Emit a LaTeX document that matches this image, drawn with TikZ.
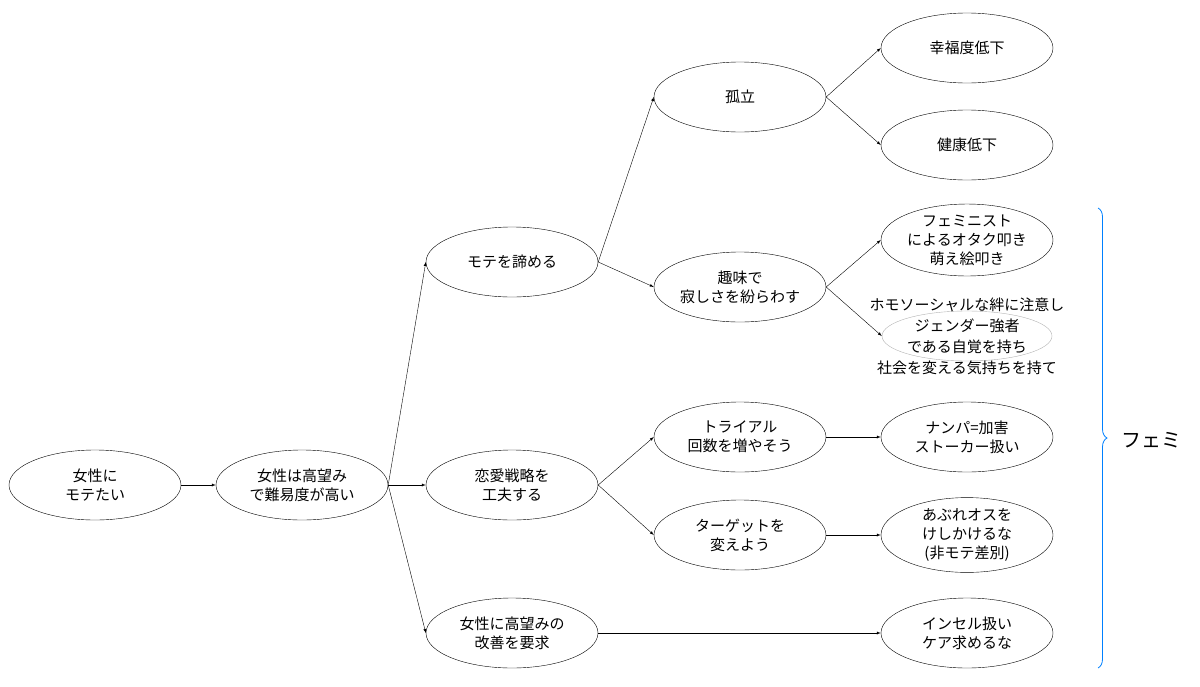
\documentclass[tikz,border=0pt]{standalone}
\usepackage{fontspec}
\setmainfont{Noto Sans CJK JP}
\usetikzlibrary{decorations.pathreplacing,shapes.geometric}
\begin{document}
\begin{tikzpicture}[x=1pt,y=-1pt,
  el/.style={draw,ellipse,minimum width=172pt,minimum height=70pt,align=center,font=\fontsize{15}{19}\selectfont,inner sep=0pt},
  ar/.style={-latex,thin}]
\useasboundingbox (0,0) rectangle (1200,686);
\node[el] (a) at (95,485) {女性に\\モテたい};
\node[el] (b) at (302,485) {女性は高望み\\で難易度が高い};
\node[el] (c1) at (512,262) {モテを諦める};
\node[el] (c2) at (512,485) {恋愛戦略を\\工夫する};
\node[el] (c3) at (512,633) {女性に高望みの\\改善を要求};
\node[el] (d1) at (740,97) {孤立};
\node[el] (d2) at (740,287) {趣味で\\寂しさを紛らわす};
\node[el] (d3) at (740,437) {トライアル\\回数を増やそう};
\node[el] (d4) at (740,535) {ターゲットを\\変えよう};
\node[el] (e1) at (967,48) {幸福度低下};
\node[el] (e2) at (967,145) {健康低下};
\node[el] (e3) at (967,240) {フェミニスト\\によるオタク叩き\\萌え絵叩き};
\node[draw=gray!60,ellipse,minimum width=170pt,minimum height=50pt] (e4) at (967,336) {};
\node[align=center,font=\fontsize{15}{21}\selectfont] (e4t) at (967,336) {ホモソーシャルな絆に注意し\\ジェンダー強者\\である自覚を持ち\\社会を変える気持ちを持て};
\node[el] (e5) at (967,437) {ナンパ=加害\\ストーカー扱い};
\node[el] (e6) at (967,535) {あぶれオスを\\けしかけるな\\(非モテ差別)};
\node[el] (e7) at (967,633) {インセル扱い\\ケア求めるな};
\draw[ar] (a) -- (b);
\foreach \t in {c1,c2,c3} \draw[ar] (b.east) -- (\t.west);
\draw[ar] (c1.east) -- (d1.west);
\draw[ar] (c1.east) -- (d2.west);
\draw[ar] (c2.east) -- (d3.west);
\draw[ar] (c2.east) -- (d4.west);
\draw[ar] (c3.east) -- (e7.west);
\draw[ar] (d1.east) -- (e1.west);
\draw[ar] (d1.east) -- (e2.west);
\draw[ar] (d2.east) -- (e3.west);
\draw[ar] (d2.east) -- (e4.west);
\draw[ar] (d3.east) -- (e5.west);
\draw[ar] (d4.east) -- (e6.west);
\coordinate (bt) at (1098,208);
\coordinate (bb) at (1098,668);
\draw[color=blue!50!cyan,thick,decorate,decoration={brace,amplitude=9pt}] (bt) -- (bb);
\node[font=\fontsize{20}{24}\selectfont,anchor=west] (f) at (1118,440) {フェミ};
\end{tikzpicture}
\end{document}
